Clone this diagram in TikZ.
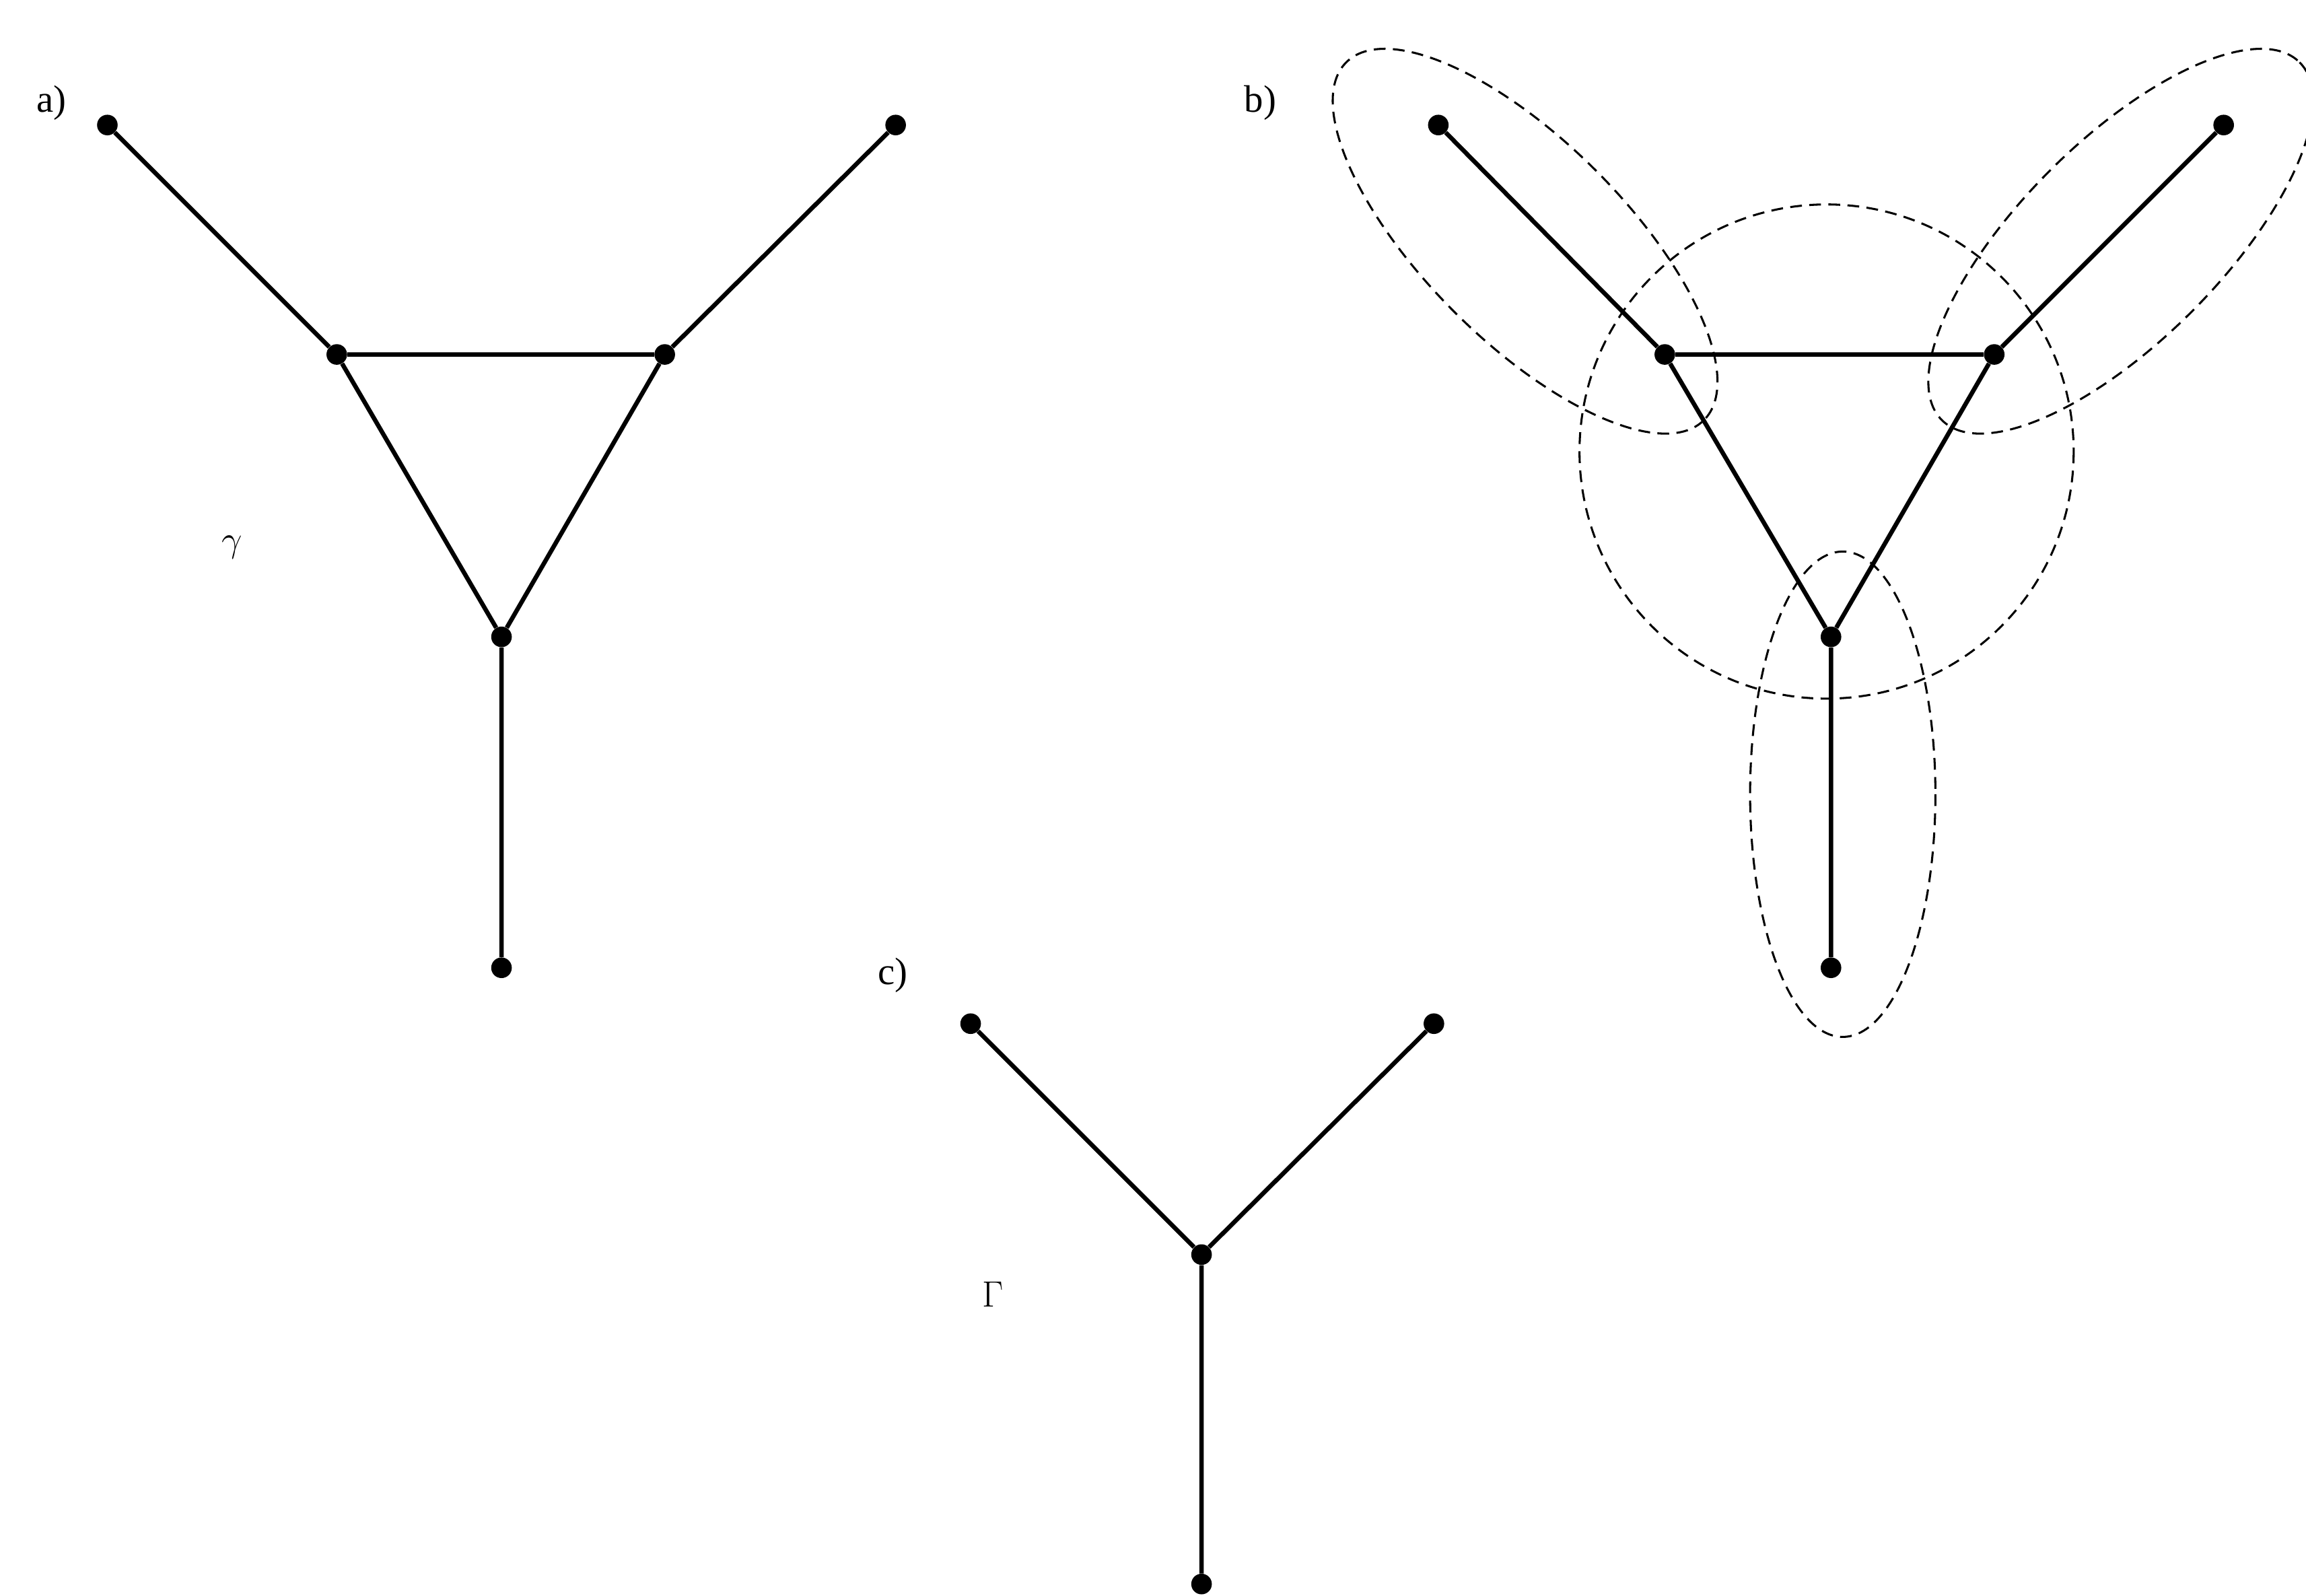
\documentclass[tikz,border=0pt]{standalone}
\usepackage{fontspec}
\setmainfont{Liberation Serif}
\begin{document}
\begin{tikzpicture}[x=1pt,y=-1pt,
  dot/.style={circle,fill=black,inner sep=0pt,minimum size=14pt},
  edge/.style={line width=3pt},
  lab/.style={font=\fontsize{26}{30}\selectfont},
  ell/.style={dashed,line width=1.4pt,dash pattern=on 8pt off 5pt}]
\useasboundingbox (0,0) rectangle (1568,1085);
% a
\node[dot] (a1) at (73,85) {};
\node[dot] (a2) at (609,85) {};
\node[dot] (a3) at (229,241) {};
\node[dot] (a4) at (452,241) {};
\node[dot] (a5) at (341,433) {};
\node[dot] (a6) at (341,658) {};
\draw[edge] (a1)--(a3) (a2)--(a4) (a3)--(a4) (a3)--(a5) (a4)--(a5) (a5)--(a6);
\node[lab] (la) at (35,70) {a)};
\node[font=\fontsize{60}{60}\selectfont] (g) at (158,372) {$\gamma$};
% b
\node[dot] (b1) at (978,85) {};
\node[dot] (b2) at (1512,85) {};
\node[dot] (b3) at (1132,241) {};
\node[dot] (b4) at (1356,241) {};
\node[dot] (b5) at (1245,433) {};
\node[dot] (b6) at (1245,658) {};
\draw[edge] (b1)--(b3) (b2)--(b4) (b3)--(b4) (b3)--(b5) (b4)--(b5) (b5)--(b6);
\node[lab] (lb) at (857,70) {b)};
\draw[ell] (1242,307) ellipse [x radius=168, y radius=168];
\draw[ell] (1037,164) ellipse [x radius=172, y radius=68, rotate=-45];
\draw[ell] (1442,164) ellipse [x radius=172, y radius=68, rotate=45];
\draw[ell] (1253,540) ellipse [x radius=63, y radius=165];
% c
\node[dot] (c1) at (660,696) {};
\node[dot] (c2) at (975,696) {};
\node[dot] (c3) at (817,853) {};
\node[dot] (c4) at (817,1077) {};
\draw[edge] (c1)--(c3) (c2)--(c3) (c3)--(c4);
\node[lab] (lc) at (607,663) {c)};
\node[font=\fontsize{56}{56}\selectfont] (G) at (675,880) {$\Gamma$};
\end{tikzpicture}
\end{document}
